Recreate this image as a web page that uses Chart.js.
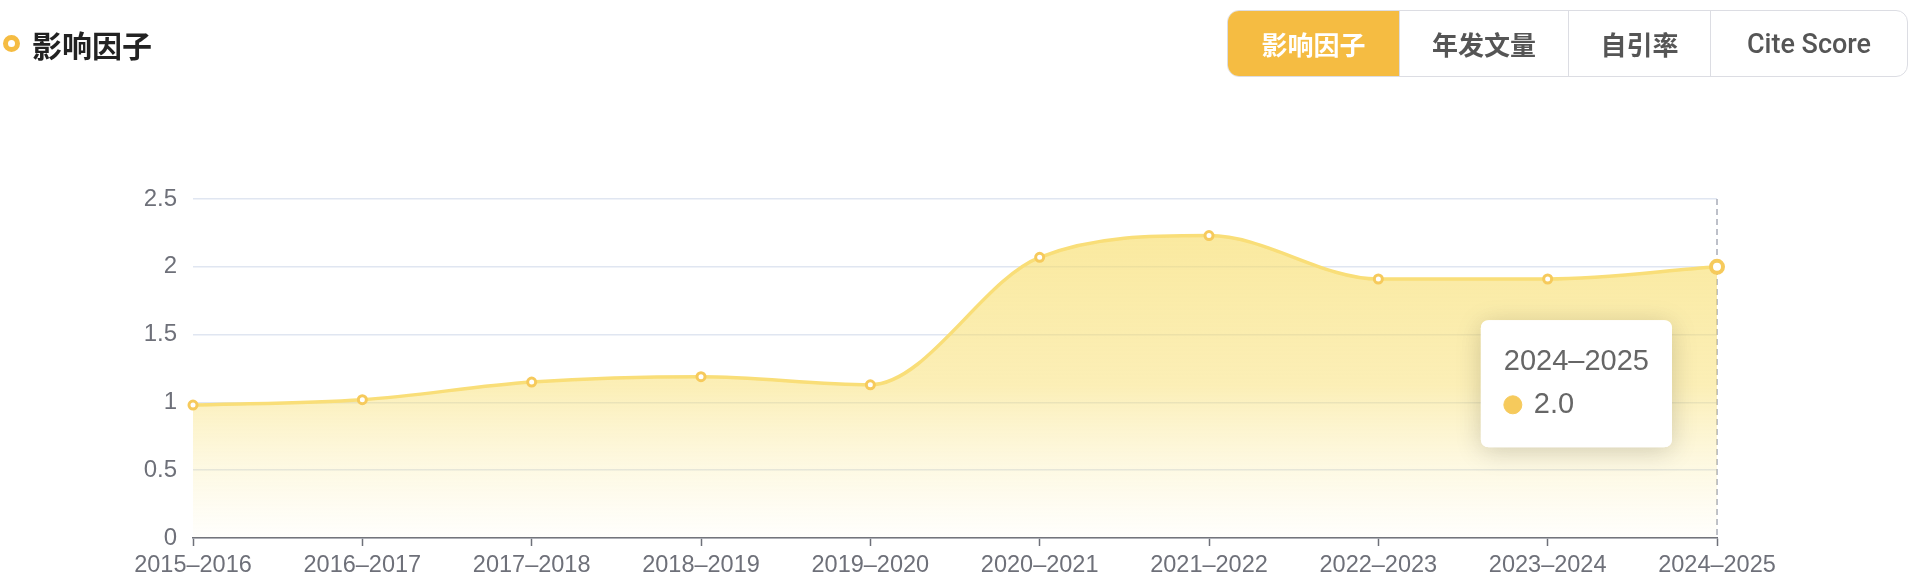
<!DOCTYPE html>
<html lang="zh">
<head>
<meta charset="utf-8">
<title>影响因子</title>
<script src="https://cdn.jsdelivr.net/npm/chart.js@4.4.1/dist/chart.umd.min.js"></script>
<style>
    html, body {
        margin: 0;
        padding: 0;
        width: 1914px;
        height: 582px;
        background: #fff;
        overflow: hidden;
        font-family: "Liberation Sans", "Noto Sans CJK SC", sans-serif;
    }
    .chart-wrap {
        position: absolute;
        left: 0;
        top: 0;
        width: 1914px;
        height: 582px;
    }
    .title {
        position: absolute;
        left: 3px;
        top: 23px;
        height: 41px;
        display: flex;
        align-items: center;
        font-family: "Noto Sans CJK SC", sans-serif;
        font-weight: 700;
        font-size: 30px;
        color: #222;
    }
    .title .dot {
        width: 7px;
        height: 7px;
        border: 5px solid #F5BC42;
        border-radius: 50%;
        margin-right: 12px;
        box-sizing: content-box;
    }
    .tabs {
        position: absolute;
        left: 1227px;
        top: 10px;
        height: 67px;
        display: flex;
        border: 1.5px solid #dcdde3;
        border-radius: 12px;
        overflow: hidden;
        box-sizing: border-box;
    }
    .tab {
        height: 100%;
        display: flex;
        align-items: center;
        justify-content: center;
        font-family: "Noto Sans CJK SC", sans-serif;
        font-size: 26px;
        font-weight: 600;
        color: #555;
        border-left: 1.5px solid #dcdde3;
        box-sizing: border-box;
    }
    .tab.latin { font-family: Roboto, "Liberation Sans", sans-serif; font-weight: 500; font-size: 27px; }
    .tab:first-child { border-left: none; }
    .tab.active { background: #F5BC42; color: #fff; }
</style>
</head>
<body>
<div class="chart-wrap"><canvas id="ifChart" width="1914" height="582"></canvas></div>

<div class="title"><span class="dot"></span>影响因子</div>
<div class="tabs">
    <div class="tab active" style="width:171px">影响因子</div>
    <div class="tab" style="width:169px">年发文量</div>
    <div class="tab" style="width:142px">自引率</div>
    <div class="tab latin" style="width:197px">Cite Score</div>
</div>

<script>
// Datos del gráfico
const years = ['2015–2016', '2016–2017', '2017–2018', '2018–2019', '2019–2020',
               '2020–2021', '2021–2022', '2022–2023', '2023–2024', '2024–2025'];
const impactFactor = [0.98, 1.02, 1.15, 1.19, 1.13, 2.07, 2.23, 1.91, 1.91, 2.0];
const yTicks = [0, 0.5, 1, 1.5, 2, 2.5];
const activeIndex = 9;

const lineColor = '#F9DE78';
const pointColor = '#F6CA5C';
const axisColor = '#6E7079';
const gridColor = '#E0E6F1';

// Tooltip fijo a la izquierda del punto activo
Chart.Tooltip.positioners.leftOfPoint = function(items) {
    if (!items.length) return false;
    const el = items[0].element;
    return { x: el.x - 45, y: el.y + 117, xAlign: 'right', yAlign: 'center' };
};

// Línea vertical discontinua + sombra del tooltip
const extrasPlugin = {
    id: 'extras',
    beforeDatasetsDraw(chart) {
        const active = chart.getActiveElements();
        if (!active.length) return;
        const x = active[0].element.x;
        const { top, bottom } = chart.chartArea;
        const ctx = chart.ctx;
        ctx.save();
        ctx.strokeStyle = '#A8ACB8';
        ctx.lineWidth = 1.5;
        ctx.setLineDash([6, 4]);
        ctx.beginPath();
        ctx.moveTo(x, top);
        ctx.lineTo(x, bottom);
        ctx.stroke();
        ctx.restore();
    },
    beforeTooltipDraw(chart, args) {
        const tt = args.tooltip;
        if (!tt.opacity) return;
        const ctx = chart.ctx;
        ctx.save();
        ctx.shadowColor = 'rgba(0, 0, 0, 0.18)';
        ctx.shadowBlur = 26;
        ctx.shadowOffsetY = 4;
        ctx.fillStyle = '#fff';
        ctx.beginPath();
        ctx.roundRect(tt.x, tt.y, tt.width, tt.height, 8);
        ctx.fill();
        ctx.restore();
    }
};

const ctx = document.getElementById('ifChart').getContext('2d');
const chart = new Chart(ctx, {
    type: 'line',
    data: {
        labels: years,
        datasets: [{
            label: '影响因子',
            data: impactFactor,
            borderColor: lineColor,
            borderWidth: 3.5,
            cubicInterpolationMode: 'monotone',
            fill: 'origin',
            backgroundColor(context) {
                const area = context.chart.chartArea;
                if (!area) return 'rgba(247,220,100,0.5)';
                const g = context.chart.ctx.createLinearGradient(0, area.top, 0, area.bottom);
                g.addColorStop(0, 'rgba(247,220,100,0.65)');
                g.addColorStop(0.55, 'rgba(247,220,100,0.47)');
                g.addColorStop(1, 'rgba(250,235,160,0.03)');
                return g;
            },
            pointRadius: 4,
            pointBorderWidth: 3,
            pointBackgroundColor: '#fff',
            pointBorderColor: pointColor,
            pointHoverRadius: 6,
            pointHoverBorderWidth: 4,
            pointHoverBackgroundColor: '#fff',
            pointHoverBorderColor: pointColor
        }]
    },
    options: {
        responsive: false,
        animation: false,
        events: [],
        layout: {
            padding: { top: 199, right: 197, bottom: 0, left: 0 }
        },
        scales: {
            x: {
                offset: false,
                grid: {
                    drawOnChartArea: false,
                    drawTicks: true,
                    tickLength: 8,
                    tickWidth: 1.5,
                    tickColor: axisColor
                },
                border: { display: true, color: axisColor, width: 1.5 },
                ticks: {
                    color: axisColor,
                    font: { size: 23.5, family: 'Liberation Sans' },
                    padding: 5,
                    maxRotation: 0,
                    autoSkip: false
                },
                afterFit(scale) { scale.height = 44; }
            },
            y: {
                min: 0,
                max: 2.5,
                afterBuildTicks(scale) {
                    scale.ticks = yTicks.map(v => ({ value: v }));
                },
                grid: {
                    color: gridColor,
                    lineWidth: 1.5,
                    drawTicks: false
                },
                border: { display: false },
                ticks: {
                    color: axisColor,
                    font: { size: 24, family: 'Liberation Sans' },
                    padding: 16,
                    callback: value => String(value)
                },
                afterFit(scale) { scale.width = 193; }
            }
        },
        plugins: {
            legend: { display: false },
            tooltip: {
                enabled: true,
                position: 'leftOfPoint',
                xAlign: 'right',
                yAlign: 'center',
                backgroundColor: '#fff',
                titleColor: '#666',
                bodyColor: '#666',
                titleFont: { size: 29, weight: 'normal', family: 'Liberation Sans', lineHeight: 1 },
                bodyFont: { size: 29, family: 'Liberation Sans', lineHeight: 1 },
                titleMarginBottom: 14,
                padding: { top: 27, bottom: 28, left: 23, right: 23 },
                cornerRadius: 8,
                caretSize: 0,
                caretPadding: 0,
                displayColors: true,
                usePointStyle: true,
                boxWidth: 18,
                boxHeight: 18,
                boxPadding: 10,
                callbacks: {
                    label: item => item.parsed.y.toFixed(1),
                    labelColor: () => ({ borderColor: pointColor, backgroundColor: pointColor }),
                    labelPointStyle: () => ({ pointStyle: 'circle', rotation: 0 })
                }
            }
        }
    },
    plugins: [extrasPlugin]
});

// Activar el último punto y su tooltip
const meta = chart.getDatasetMeta(0);
const pt = meta.data[activeIndex];
chart.setActiveElements([{ datasetIndex: 0, index: activeIndex }]);
chart.tooltip.setActiveElements([{ datasetIndex: 0, index: activeIndex }], { x: pt.x, y: pt.y });
chart.update('none');
</script>
</body>
</html>
